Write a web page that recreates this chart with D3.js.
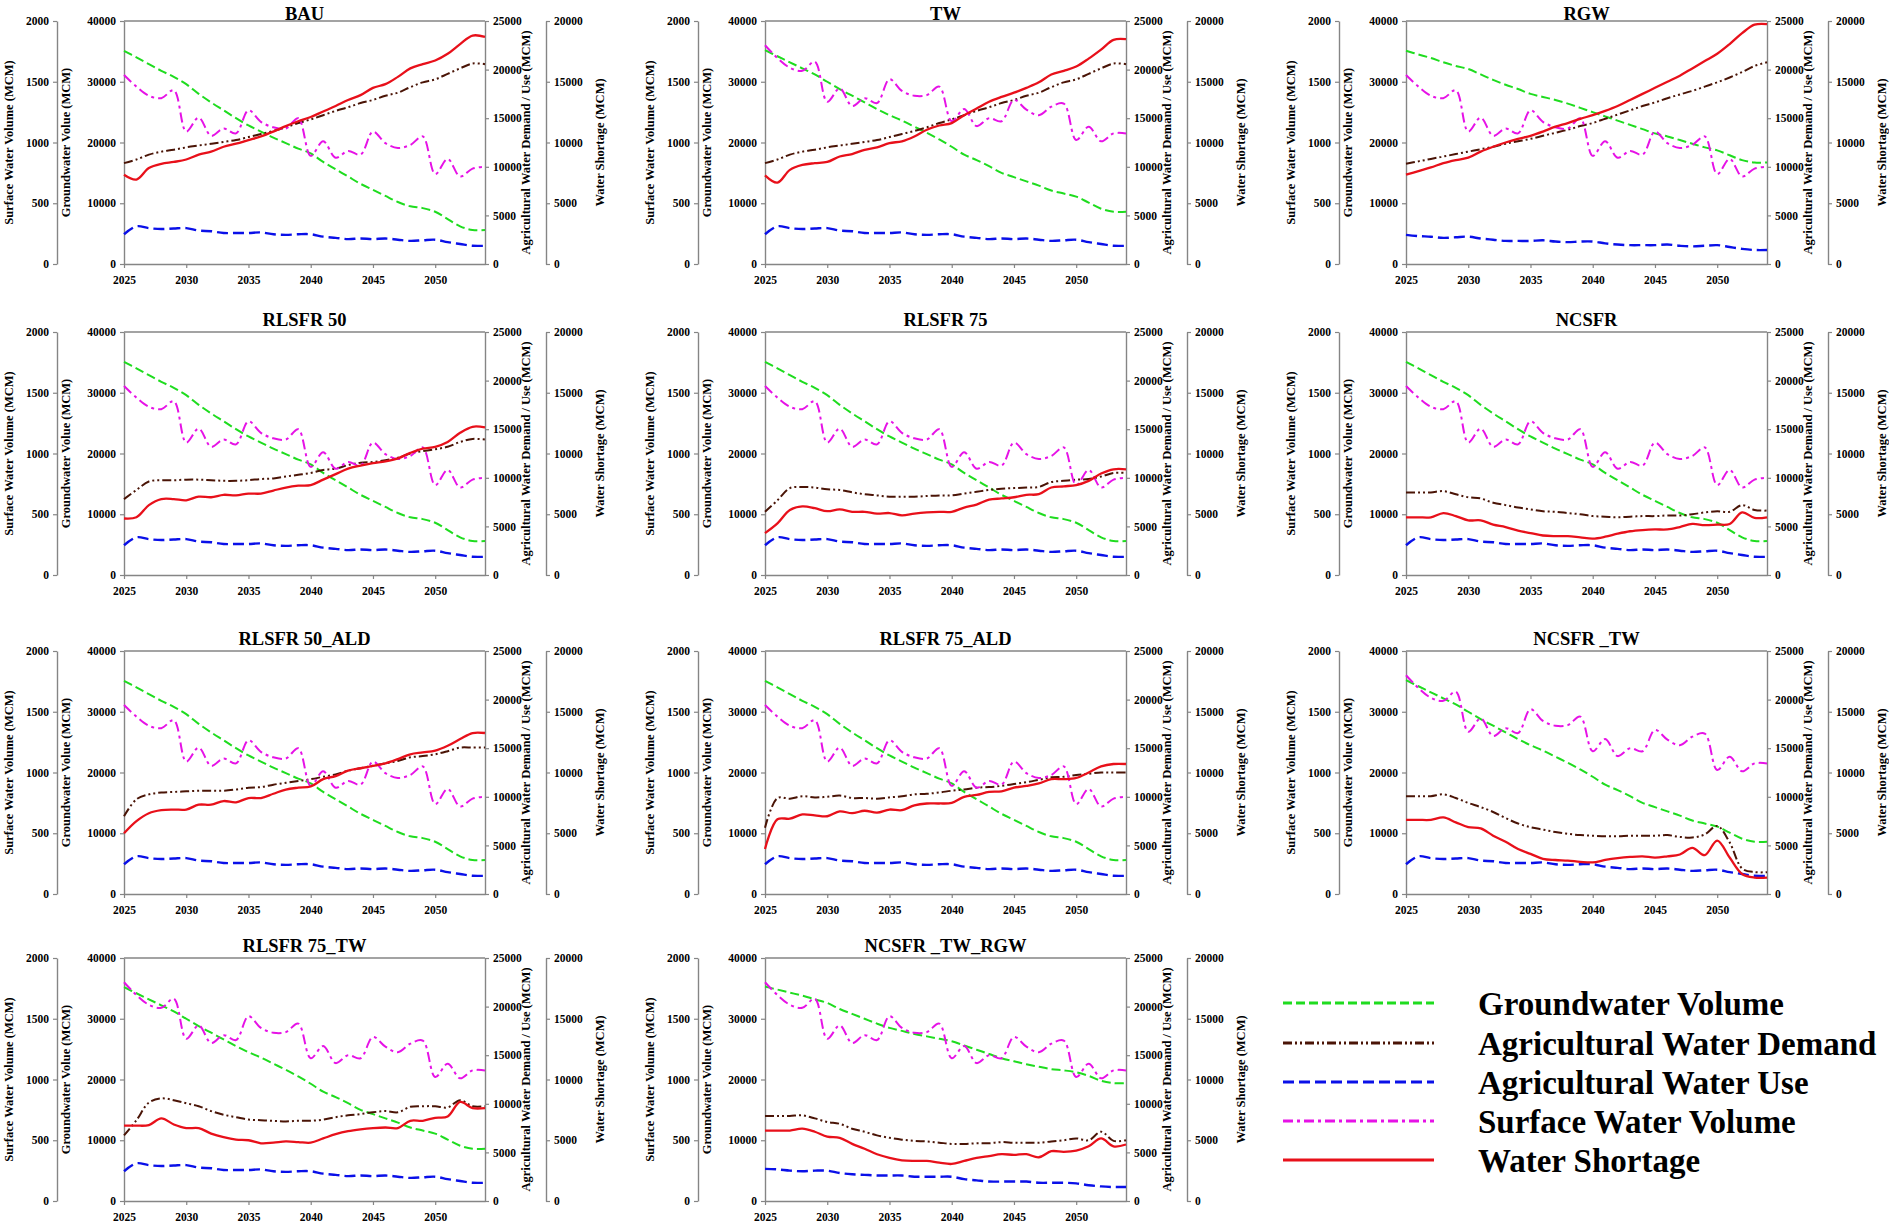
<!DOCTYPE html>
<html><head><meta charset="utf-8">
<script src="https://cdn.jsdelivr.net/npm/d3@7/dist/d3.min.js"></script>
<style>
body{margin:0;background:#fff}
svg{display:block}
text{font-family:"Liberation Serif","Times New Roman",serif;font-weight:bold;fill:#000}
</style></head><body>
<svg id="chart" width="1889" height="1226"></svg>
<script>
// ---------- categories / ticks ----------
const years = [2025,2026,2027,2028,2029,2030,2031,2032,2033,2034,2035,2036,2037,2038,2039,2040,2041,2042,2043,2044,2045,2046,2047,2048,2049,2050,2051,2052,2053,2054];
const xTicks = [2025,2030,2035,2040,2045,2050];
const swTicks = [0,500,1000,1500,2000];
const gwTicks = [0,10000,20000,30000,40000];
const agTicks = [0,5000,10000,15000,20000,25000];
const wsTicks = [0,5000,10000,15000,20000];
const seriesNames = ["Groundwater Volume","Agricultural Water Demand","Agricultural Water Use","Surface Water Volume","Water Shortage"];

// ---------- Groundwater volume (MCM) ----------
const gwBAU = [35100,34000,32900,31800,30800,29600,28000,26600,25300,24000,22800,21800,20800,19900,19000,18200,16800,15600,14400,13200,12200,11200,10200,9500,9200,8600,7400,6200,5600,5600];
const gwTW  = [35200,34200,33200,32200,31200,30000,28800,27700,26600,25500,24500,23600,22600,21600,20500,19300,18000,17100,16100,15000,14300,13600,12900,12100,11600,11100,10100,9100,8600,8600];
const gwRGW = [35100,34500,33900,33200,32600,32100,31200,30300,29500,28800,28000,27500,27000,26400,25700,25000,24300,23600,22900,22200,21500,21000,20400,19800,19200,18700,17900,17100,16700,16700];
const gwTWRGW = [35300,34800,34300,33800,33200,32600,31600,30800,30000,29200,28500,28000,27500,27100,26700,26300,25600,24900,24200,23500,23000,22500,22100,21700,21500,21200,20600,19800,19400,19400];

// ---------- Surface water volume (MCM) ----------
const swBase = [1555,1460,1385,1365,1430,1090,1205,1055,1115,1075,1265,1170,1125,1115,1200,890,1010,875,930,900,1090,995,955,980,1050,740,865,720,785,800];
const swTW   = [1800,1695,1615,1590,1665,1335,1445,1300,1365,1325,1520,1425,1385,1390,1460,1175,1275,1135,1200,1175,1350,1270,1225,1295,1320,1020,1130,1010,1075,1075];

// ---------- Agricultural water use (MCM) ----------
const useBase = [3060,3875,3690,3595,3655,3690,3440,3375,3190,3190,3190,3250,3060,3000,3060,3060,2810,2690,2560,2625,2560,2625,2500,2375,2440,2500,2250,2060,1875,1875];
const useRGW  = [3000,2875,2810,2690,2750,2810,2625,2500,2375,2375,2375,2440,2310,2250,2310,2310,2125,2000,1940,1940,1940,2000,1875,1810,1875,1940,1750,1560,1440,1440];
const useTWRGW = [3310,3250,3125,3060,3125,3125,2875,2750,2690,2625,2625,2625,2500,2500,2500,2500,2250,2125,2000,2000,2000,2000,1875,1875,1875,1810,1625,1500,1440,1440];

// ---------- Agricultural water demand (MCM) ----------
const demBAU = [10375,10750,11250,11560,11750,12000,12190,12375,12560,12750,13060,13375,13690,14060,14500,14875,15310,15750,16125,16560,16875,17310,17625,18190,18690,19000,19560,20125,20625,20560];
const demRGW = [10310,10560,10810,11060,11310,11560,11810,12060,12375,12625,12875,13190,13500,13810,14190,14500,14940,15375,15810,16250,16625,17060,17440,17810,18250,18690,19190,19750,20375,20750];
const demR50 = [7810,8750,9625,9750,9750,9810,9810,9750,9690,9690,9750,9875,9940,10125,10310,10500,10810,10940,11310,11560,11625,11810,12060,12500,12750,12940,13190,13690,14000,13940];
const demR75 = [6500,7690,8940,9060,9000,8810,8750,8500,8310,8190,8060,8060,8060,8125,8190,8190,8375,8560,8750,8875,8940,9000,9060,9560,9690,9810,9875,10125,10500,10500];
const demNC  = [8500,8500,8500,8625,8310,8000,7875,7440,7190,6940,6750,6560,6500,6375,6250,6060,6000,5940,6000,6060,6060,6125,6125,6250,6440,6560,6500,7190,6690,6625];
const demR50A = [8000,9750,10250,10440,10500,10560,10625,10625,10625,10750,10940,11000,11250,11440,11625,11810,12060,12310,12690,12940,13190,13440,13690,14060,14190,14375,14690,15060,15060,15060];
const demR75A = [6810,9875,9810,10060,9940,10000,10125,9875,9875,9810,9940,10060,10250,10310,10440,10625,10750,10940,11000,11125,11310,11500,11750,12000,12060,12250,12375,12500,12500,12500];
const demNCTW = [10060,10060,10060,10250,9875,9375,8940,8440,7810,7250,6875,6625,6375,6190,6060,6000,5940,5940,6000,6000,6000,6060,5875,5810,6125,7000,5310,2625,2250,2250];
const demR75TW = [6750,8310,10125,10560,10375,10060,9750,9250,8875,8625,8375,8310,8250,8190,8250,8250,8375,8625,8810,8940,9125,9250,9125,9690,9750,9750,9625,10375,9750,9750];
const demNCTWRGW = [8750,8750,8750,8810,8500,8125,7940,7440,7125,6750,6500,6310,6190,6125,6000,5875,5875,5940,5940,6060,6000,6000,6000,6125,6250,6440,6250,7125,6190,6250];

// ---------- Water shortage (MCM) ----------
const shBAU = [7350,6950,7900,8250,8400,8600,9000,9250,9650,9900,10200,10500,10900,11350,11750,12100,12550,13000,13500,13900,14500,14800,15400,16100,16450,16750,17300,18100,18800,18700];
const shTW  = [7300,6700,7750,8150,8300,8400,8850,9050,9400,9600,9950,10100,10500,11050,11400,11600,12250,12800,13350,13750,14100,14500,14950,15600,15900,16250,16900,17650,18450,18500];
const shRGW = [7350,7650,7950,8300,8550,8750,9250,9650,10000,10300,10550,10900,11300,11600,11950,12250,12600,13000,13500,14000,14500,15000,15500,16100,16700,17300,18100,19000,19700,19750];
const shR50 = [4650,4750,5750,6250,6250,6150,6450,6400,6600,6550,6700,6700,6950,7200,7350,7400,7850,8300,8750,9000,9200,9350,9600,10050,10400,10550,10950,11700,12200,12150];
const shR75 = [3450,4250,5350,5650,5500,5250,5400,5200,5200,5050,5100,4900,5050,5150,5200,5200,5550,5800,6200,6300,6400,6600,6650,7200,7300,7400,7750,8350,8700,8700];
const shNC  = [4750,4750,4750,5100,4850,4500,4500,4150,3950,3650,3450,3250,3200,3200,3100,3000,3150,3400,3600,3700,3750,3750,3950,4200,4100,4150,4200,5150,4700,4750];
const shR50A = [5000,6000,6650,6900,6950,6950,7350,7350,7650,7550,7900,7900,8250,8600,8750,8850,9450,9700,10150,10350,10550,10750,11100,11500,11650,11800,12200,12750,13250,13250];
const shR75A = [3700,6150,6200,6550,6475,6400,6800,6650,6850,6700,6950,6900,7300,7450,7450,7500,8000,8150,8400,8450,8750,8900,9100,9450,9450,9550,10000,10500,10700,10700];
const shNCTW = [6100,6100,6100,6300,5900,5500,5400,4800,4300,3700,3300,2900,2800,2750,2650,2600,2800,2950,3050,3100,3000,3100,3250,3800,3200,4400,3000,1650,1350,1350];
const shR75TW = [6200,6200,6250,6800,6300,6000,6000,5550,5250,5050,5000,4750,4800,4900,4850,4800,5150,5500,5750,5900,6000,6050,6000,6600,6600,6850,6950,8150,7650,7650];
const shNCTWRGW = [5800,5800,5800,5950,5700,5300,5200,4700,4300,3850,3550,3350,3300,3300,3150,3050,3300,3550,3700,3850,3800,3850,3600,4100,4050,4150,4500,5150,4500,4650];

// ---------- scenarios (panel order) ----------
const panels = [
  {title:"BAU", gw:gwBAU, dem:demBAU, use:useBase, sw:swBase, sh:shBAU},
  {title:"TW", gw:gwTW, dem:demBAU, use:useBase, sw:swTW, sh:shTW},
  {title:"RGW", gw:gwRGW, dem:demRGW, use:useRGW, sw:swBase, sh:shRGW},
  {title:"RLSFR 50", gw:gwBAU, dem:demR50, use:useBase, sw:swBase, sh:shR50},
  {title:"RLSFR 75", gw:gwBAU, dem:demR75, use:useBase, sw:swBase, sh:shR75},
  {title:"NCSFR", gw:gwBAU, dem:demNC, use:useBase, sw:swBase, sh:shNC},
  {title:"RLSFR 50_ALD", gw:gwBAU, dem:demR50A, use:useBase, sw:swBase, sh:shR50A},
  {title:"RLSFR 75_ALD", gw:gwBAU, dem:demR75A, use:useBase, sw:swBase, sh:shR75A},
  {title:"NCSFR _TW", gw:gwTW, dem:demNCTW, use:useBase, sw:swTW, sh:shNCTW},
  {title:"RLSFR 75_TW", gw:gwTW, dem:demR75TW, use:useBase, sw:swTW, sh:shR75TW},
  {title:"NCSFR _TW_RGW", gw:gwTWRGW, dem:demNCTWRGW, use:useTWRGW, sw:swTW, sh:shNCTWRGW}
];

// ---------- styles ----------
const styles = {
  gw:  {color:"#1fdc1f", dash:"9,4", w:2},
  dem: {color:"#4a1406", dash:"9,3,2,3,2,3", w:2},
  use: {color:"#0a10e8", dash:"11,5", w:2.4},
  sw:  {color:"#e612e6", dash:"10,4,3,4", w:2},
  sh:  {color:"#e8101a", dash:null, w:2.3}
};

const svg = d3.select("#chart");
const colX = [124, 765, 1406];
const rowY = [21, 332, 651, 958];
const W = 361, H = 243;
const axisGray = "#858585";

function styleAxis(g){
  g.select(".domain").attr("stroke", axisGray).attr("stroke-width", 1.4);
  g.selectAll(".tick line").attr("stroke", axisGray).attr("stroke-width", 1.2);
  g.selectAll(".tick text").style("font-size","11.5px").style("font-weight","bold")
   .style("font-family",'"Liberation Serif",serif').attr("fill","#000");
}

panels.forEach((p, i) => {
  const col = i % 3, row = Math.floor(i / 3);
  const L = colX[col], T = rowY[row], R = L + W, B = T + H;
  const g = svg.append("g");

  const x = d3.scaleLinear().domain([2025, 2054]).range([L, R]);
  const yGW = d3.scaleLinear().domain([0, 40000]).range([B, T]);
  const ySW = d3.scaleLinear().domain([0, 2000]).range([B, T]);
  const yAG = d3.scaleLinear().domain([0, 25000]).range([B, T]);
  const yWS = d3.scaleLinear().domain([0, 20000]).range([B, T]);

  g.append("line").attr("x1", L).attr("x2", R).attr("y1", T).attr("y2", T)
    .attr("stroke", axisGray).attr("stroke-width", 1.4);

  g.append("g").attr("transform", `translate(0,${B})`)
    .call(d3.axisBottom(x).tickValues(xTicks).tickFormat(d3.format("d")).tickSize(4).tickSizeOuter(0).tickPadding(8))
    .call(styleAxis);
  g.append("g").attr("transform", `translate(${L},0)`)
    .call(d3.axisLeft(yGW).tickValues(gwTicks).tickFormat(d3.format("d")).tickSize(4).tickSizeOuter(0).tickPadding(4))
    .call(styleAxis);
  g.append("g").attr("transform", `translate(${L - 67},0)`)
    .call(d3.axisLeft(ySW).tickValues(swTicks).tickFormat(d3.format("d")).tickSize(4).tickSizeOuter(0).tickPadding(4))
    .call(styleAxis);
  g.append("g").attr("transform", `translate(${R},0)`)
    .call(d3.axisRight(yAG).tickValues(agTicks).tickFormat(d3.format("d")).tickSize(4).tickSizeOuter(0).tickPadding(4))
    .call(styleAxis);
  g.append("g").attr("transform", `translate(${R + 61},0)`)
    .call(d3.axisRight(yWS).tickValues(wsTicks).tickFormat(d3.format("d")).tickSize(4).tickSizeOuter(0).tickPadding(4))
    .call(styleAxis);

  const cy = T + H / 2;
  const titles = [
    [L - 115, "Surface Water Volume (MCM)"],
    [L - 58, "Groundwater Volue (MCM)"],
    [R + 41, "Agricultural Water Demand / Use (MCM)"],
    [R + 115, "Water Shortage (MCM)"]
  ];
  titles.forEach(([tx, t]) => {
    g.append("text").attr("transform", `translate(${tx},${cy}) rotate(-90)`)
      .attr("text-anchor", "middle").attr("dy", "0.35em")
      .style("font-size", "12.5px").text(t);
  });

  g.append("text").attr("x", (L + R) / 2).attr("y", row === 0 ? T - 1 : T - 6)
    .attr("text-anchor", "middle").style("font-size", "18.5px").text(p.title);

  const mk = (yScale) => d3.line().x((d, j) => x(years[j])).y(d => yScale(d)).curve(d3.curveCatmullRom.alpha(0.5));
  const draw = (data, yScale, st) => {
    g.append("path").datum(data).attr("d", mk(yScale)).attr("fill", "none")
      .attr("stroke", st.color).attr("stroke-width", st.w)
      .attr("stroke-dasharray", st.dash).attr("stroke-linejoin", "round");
  };
  draw(p.gw, yGW, styles.gw);
  draw(p.use, yAG, styles.use);
  draw(p.dem, yAG, styles.dem);
  draw(p.sw, ySW, styles.sw);
  draw(p.sh, yWS, styles.sh);
});

// ---------- legend ----------
const legKeys = ["gw", "dem", "use", "sw", "sh"];
const legY = [1003, 1043, 1082, 1121, 1160];
const lg = svg.append("g");
legKeys.forEach((k, i) => {
  const st = styles[k];
  lg.append("line").attr("x1", 1283).attr("x2", 1434).attr("y1", legY[i]).attr("y2", legY[i])
    .attr("stroke", st.color).attr("stroke-width", 3).attr("stroke-dasharray", st.dash);
  lg.append("text").attr("x", 1478).attr("y", legY[i]).attr("dy", "0.35em")
    .style("font-size", "33px").text(seriesNames[i]);
});
</script>
</body></html>
